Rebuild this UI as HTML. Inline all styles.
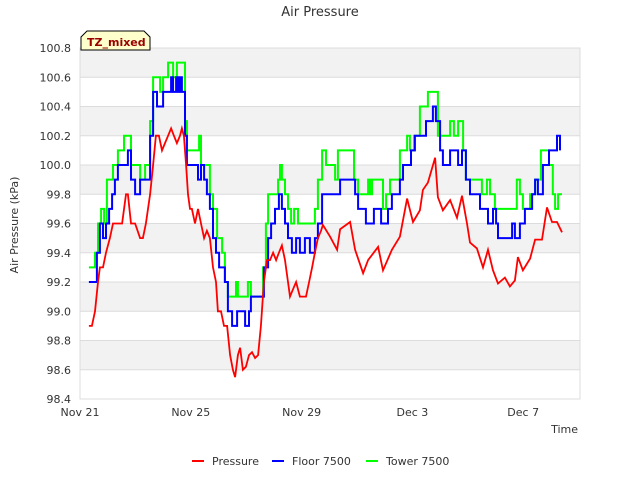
<!DOCTYPE html>
<html><head><meta charset="utf-8"><style>
body{margin:0;background:#fff;font-family:"Liberation Sans","DejaVu Sans",sans-serif}
svg text{font-family:"DejaVu Sans","Liberation Sans",sans-serif}
</style></head><body>
<svg id="chart" width="640" height="480">
<text x="320" y="16" text-anchor="middle" font-size="13" fill="#333">Air Pressure</text>
<g id="grid"></g>
<g id="series"></g>
<g id="axes"></g>
<text transform="translate(18,225) rotate(-90)" text-anchor="middle" font-size="11" fill="#333">Air Pressure (kPa)</text>
<text x="578" y="433" text-anchor="end" font-size="11" fill="#333">Time</text>
<g>
<path d="M81,37 L87,31 L144,31 L150,37 L150,50 L81,50 Z" fill="#ffffcc" stroke="#000" stroke-width="1"/>
<text x="87" y="46" font-size="11" font-weight="bold" fill="#990000">TZ_mixed</text>
</g>
<g>
<g><line x1="192" y1="461" x2="204" y2="461" stroke="#ff0000" stroke-width="2"/><text x="212" y="465" font-size="11" fill="#333">Pressure</text></g>
<g><line x1="272" y1="461" x2="284" y2="461" stroke="#0000ff" stroke-width="2"/><text x="292" y="465" font-size="11" fill="#333">Floor 7500</text></g>
<g><line x1="366" y1="461" x2="378" y2="461" stroke="#00ff00" stroke-width="2"/><text x="386" y="465" font-size="11" fill="#333">Tower 7500</text></g>
</g>
</svg>
<script>
const yTicks=[98.4,98.6,98.8,99.0,99.2,99.4,99.6,99.8,100.0,100.2,100.4,100.6,100.8];
const xTickDays=[0,4,8,12,16];
const xTickLabels=["Nov 21","Nov 25","Nov 29","Dec 3","Dec 7"];
const pressureDays=[.32,.43,.54,.65,.72,.83,.94,1.08,1.19,1.37,1.52,1.66,1.73,1.84,1.99,2.17,2.27,2.38,2.53,2.64,2.74,2.85,2.96,3.07,3.18,3.29,3.39,3.50,3.61,3.68,3.75,3.83,3.90,3.97,4.04,4.15,4.26,4.37,4.48,4.58,4.69,4.80,4.91,4.98,5.09,5.20,5.31,5.42,5.52,5.60,5.70,5.78,5.88,5.99,6.10,6.21,6.32,6.43,6.53,6.64,6.75,6.86,6.97,7.08,7.18,7.29,7.40,7.51,7.58,7.69,7.80,7.94,8.05,8.16,8.27,8.38,8.48,8.59,8.70,8.77,9.03,9.28,9.39,9.75,9.93,10.22,10.40,10.76,10.94,11.26,11.55,11.81,12.02,12.27,12.38,12.56,12.82,12.92,13.10,13.36,13.61,13.79,13.97,14.08,14.33,14.55,14.73,14.91,15.09,15.34,15.52,15.70,15.81,15.99,16.25,16.43,16.68,16.86,17.04,17.22,17.40];
const pressureValues=[98.9,98.9,99.0,99.2,99.3,99.3,99.4,99.5,99.6,99.6,99.6,99.8,99.8,99.6,99.6,99.5,99.5,99.6,99.8,100.0,100.2,100.2,100.1,100.15,100.2,100.25,100.2,100.15,100.2,100.25,100.2,100.0,99.8,99.7,99.7,99.6,99.7,99.6,99.5,99.55,99.5,99.3,99.2,99.0,99.0,98.9,98.9,98.7,98.6,98.55,98.7,98.75,98.6,98.62,98.7,98.72,98.68,98.7,98.9,99.2,99.35,99.35,99.4,99.35,99.4,99.45,99.35,99.2,99.1,99.15,99.2,99.1,99.1,99.1,99.2,99.3,99.4,99.5,99.55,99.59,99.51,99.42,99.56,99.61,99.42,99.26,99.35,99.44,99.28,99.42,99.51,99.77,99.61,99.69,99.83,99.88,100.05,99.78,99.69,99.76,99.64,99.79,99.6,99.47,99.43,99.3,99.42,99.28,99.19,99.23,99.17,99.21,99.37,99.28,99.36,99.49,99.49,99.71,99.61,99.61,99.54];
const floorDays=[.32,.54,.61,.72,.83,.94,1.05,1.16,1.26,1.37,1.62,1.73,1.84,1.99,2.09,2.17,2.35,2.53,2.64,2.78,2.89,3.00,3.18,3.29,3.36,3.47,3.54,3.61,3.68,3.79,3.86,3.97,4.15,4.26,4.37,4.48,4.58,4.69,4.80,4.91,5.02,5.13,5.23,5.34,5.49,5.60,5.67,5.85,5.96,6.10,6.17,6.35,6.53,6.64,6.79,6.90,7.04,7.18,7.29,7.40,7.51,7.65,7.80,7.94,8.12,8.30,8.48,8.59,8.74,8.88,9.31,9.39,9.82,9.93,10.04,10.18,10.32,10.54,10.61,10.76,10.87,11.01,11.12,11.26,11.41,11.55,11.66,11.84,11.95,12.09,12.27,12.49,12.64,12.74,12.85,13.00,13.10,13.25,13.36,13.54,13.65,13.79,13.93,14.08,14.30,14.44,14.62,14.73,14.91,15.02,15.09,15.34,15.52,15.60,15.70,15.88,16.06,16.25,16.32,16.43,16.53,16.71,16.86,16.93,17.15,17.22,17.33];
const floorValues=[99.2,99.2,99.4,99.6,99.5,99.6,99.7,99.8,99.9,100.0,100.0,100.1,99.9,99.8,99.8,99.9,99.9,100.2,100.5,100.4,100.4,100.5,100.5,100.6,100.5,100.6,100.5,100.6,100.5,100.2,100.0,100.0,100.0,99.9,100.0,99.9,99.8,99.7,99.5,99.4,99.3,99.3,99.2,99.0,98.9,98.9,99.0,99.0,98.9,99.0,99.1,99.1,99.1,99.3,99.5,99.6,99.7,99.8,99.7,99.6,99.5,99.4,99.5,99.4,99.5,99.4,99.5,99.6,99.8,99.8,99.8,99.9,99.9,99.8,99.7,99.7,99.6,99.6,99.7,99.7,99.6,99.6,99.7,99.8,99.8,99.9,100.0,100.0,100.1,100.2,100.2,100.3,100.3,100.4,100.3,100.1,100.0,100.0,100.1,100.1,100.0,100.1,99.9,99.8,99.8,99.7,99.7,99.6,99.7,99.6,99.5,99.5,99.5,99.6,99.5,99.6,99.7,99.7,99.8,99.9,99.8,100.0,100.0,100.1,100.1,100.2,100.1];
const towerDays=[.32,.54,.65,.76,.87,.97,1.08,1.19,1.37,1.59,1.77,1.84,1.99,2.17,2.35,2.53,2.64,2.78,2.89,3.00,3.18,3.36,3.50,3.68,3.79,3.86,4.15,4.30,4.37,4.58,4.69,4.80,4.95,5.13,5.23,5.34,5.49,5.63,5.70,5.96,6.06,6.17,6.43,6.61,6.71,6.79,7.04,7.15,7.22,7.29,7.40,7.51,7.62,7.73,7.87,8.30,8.48,8.59,8.74,8.88,9.21,9.31,9.75,9.89,10.04,10.29,10.40,10.47,10.54,10.83,10.94,11.05,11.19,11.37,11.55,11.73,11.81,11.91,12.06,12.27,12.42,12.56,12.82,12.92,13.28,13.36,13.50,13.65,13.83,13.93,14.37,14.51,14.69,14.80,14.98,15.63,15.77,15.88,15.99,16.25,16.43,16.64,16.82,16.93,17.07,17.15,17.26,17.40];
const towerValues=[99.3,99.4,99.6,99.7,99.6,99.9,99.9,100.0,100.1,100.2,100.2,100.0,100.0,99.9,100.0,100.3,100.6,100.6,100.5,100.6,100.7,100.6,100.7,100.7,100.3,100.1,100.1,100.2,100.0,100.0,99.8,99.7,99.5,99.4,99.2,99.1,99.1,99.2,99.1,99.1,99.2,99.1,99.1,99.3,99.6,99.8,99.8,99.9,100.0,99.9,99.8,99.7,99.6,99.7,99.6,99.6,99.7,99.9,100.1,100.0,99.9,100.1,100.1,99.9,99.8,99.8,99.9,99.8,99.9,99.9,99.7,99.8,99.9,99.9,100.1,100.1,100.2,100.1,100.2,100.4,100.4,100.5,100.5,100.2,100.2,100.3,100.2,100.3,100.1,99.9,99.9,99.8,99.9,99.8,99.7,99.7,99.9,99.8,99.7,99.8,99.9,100.1,100.1,100.0,99.8,99.7,99.8,99.8];

const X0=80,X1=580,Y0=48,Y1=399,VMIN=98.4,VMAX=100.8,PXDAY=27.7;
const xs=d=>X0+d*PXDAY;
const ys=v=>Y1-(v-VMIN)/(VMAX-VMIN)*(Y1-Y0);
const NS="http://www.w3.org/2000/svg";
function mk(tag,attrs,parent){const e=document.createElementNS(NS,tag);for(const k in attrs)e.setAttribute(k,attrs[k]);parent.appendChild(e);return e;}
const grid=document.getElementById('grid'),axes=document.getElementById('axes'),ser=document.getElementById('series');
for(let i=0;i<yTicks.length-1;i++){
  if((yTicks.length-2-i)%2===0){
    const r=mk('rect',{x:X0,y:ys(yTicks[i+1]),width:X1-X0,height:ys(yTicks[i])-ys(yTicks[i+1]),fill:'#f2f2f2'},grid);
    
    
  }
}
yTicks.forEach(v=>{
  const l=mk('line',{x1:X0,x2:X1,y1:ys(v),y2:ys(v),stroke:'#dcdcdc','stroke-width':1},grid);
  
  
  const t=mk('text',{x:X0-9,y:ys(v)+4,'text-anchor':'end','font-size':11,fill:'#333'},axes);
  t.textContent=v.toFixed(1);
  
  
});
const fr=mk('rect',{x:X0,y:Y0,width:X1-X0,height:Y1-Y0,fill:'none',stroke:'#dcdcdc'},axes);


xTickDays.forEach((d,i)=>{
  const t=mk('text',{x:xs(d),y:416,'text-anchor':'middle','font-size':11,fill:'#333'},axes);
  t.textContent=xTickLabels[i];
  
  
});
function linePath(ds,vs,step){
  let p='M'+xs(ds[0]).toFixed(1)+','+ys(vs[0]).toFixed(1);
  for(let i=1;i<ds.length;i++){
    if(step)p+='L'+xs(ds[i]).toFixed(1)+','+ys(vs[i-1]).toFixed(1);
    p+='L'+xs(ds[i]).toFixed(1)+','+ys(vs[i]).toFixed(1);
  }
  return p;
}
const g=mk('path',{d:linePath(towerDays,towerValues,true),fill:'none',stroke:'#00ff00','stroke-width':2},ser);


const b=mk('path',{d:linePath(floorDays,floorValues,true),fill:'none',stroke:'#0000ff','stroke-width':2},ser);


const r=mk('path',{d:linePath(pressureDays,pressureValues,false),fill:'none',stroke:'#ff0000','stroke-width':1.8},ser);


</script>
</body></html>
